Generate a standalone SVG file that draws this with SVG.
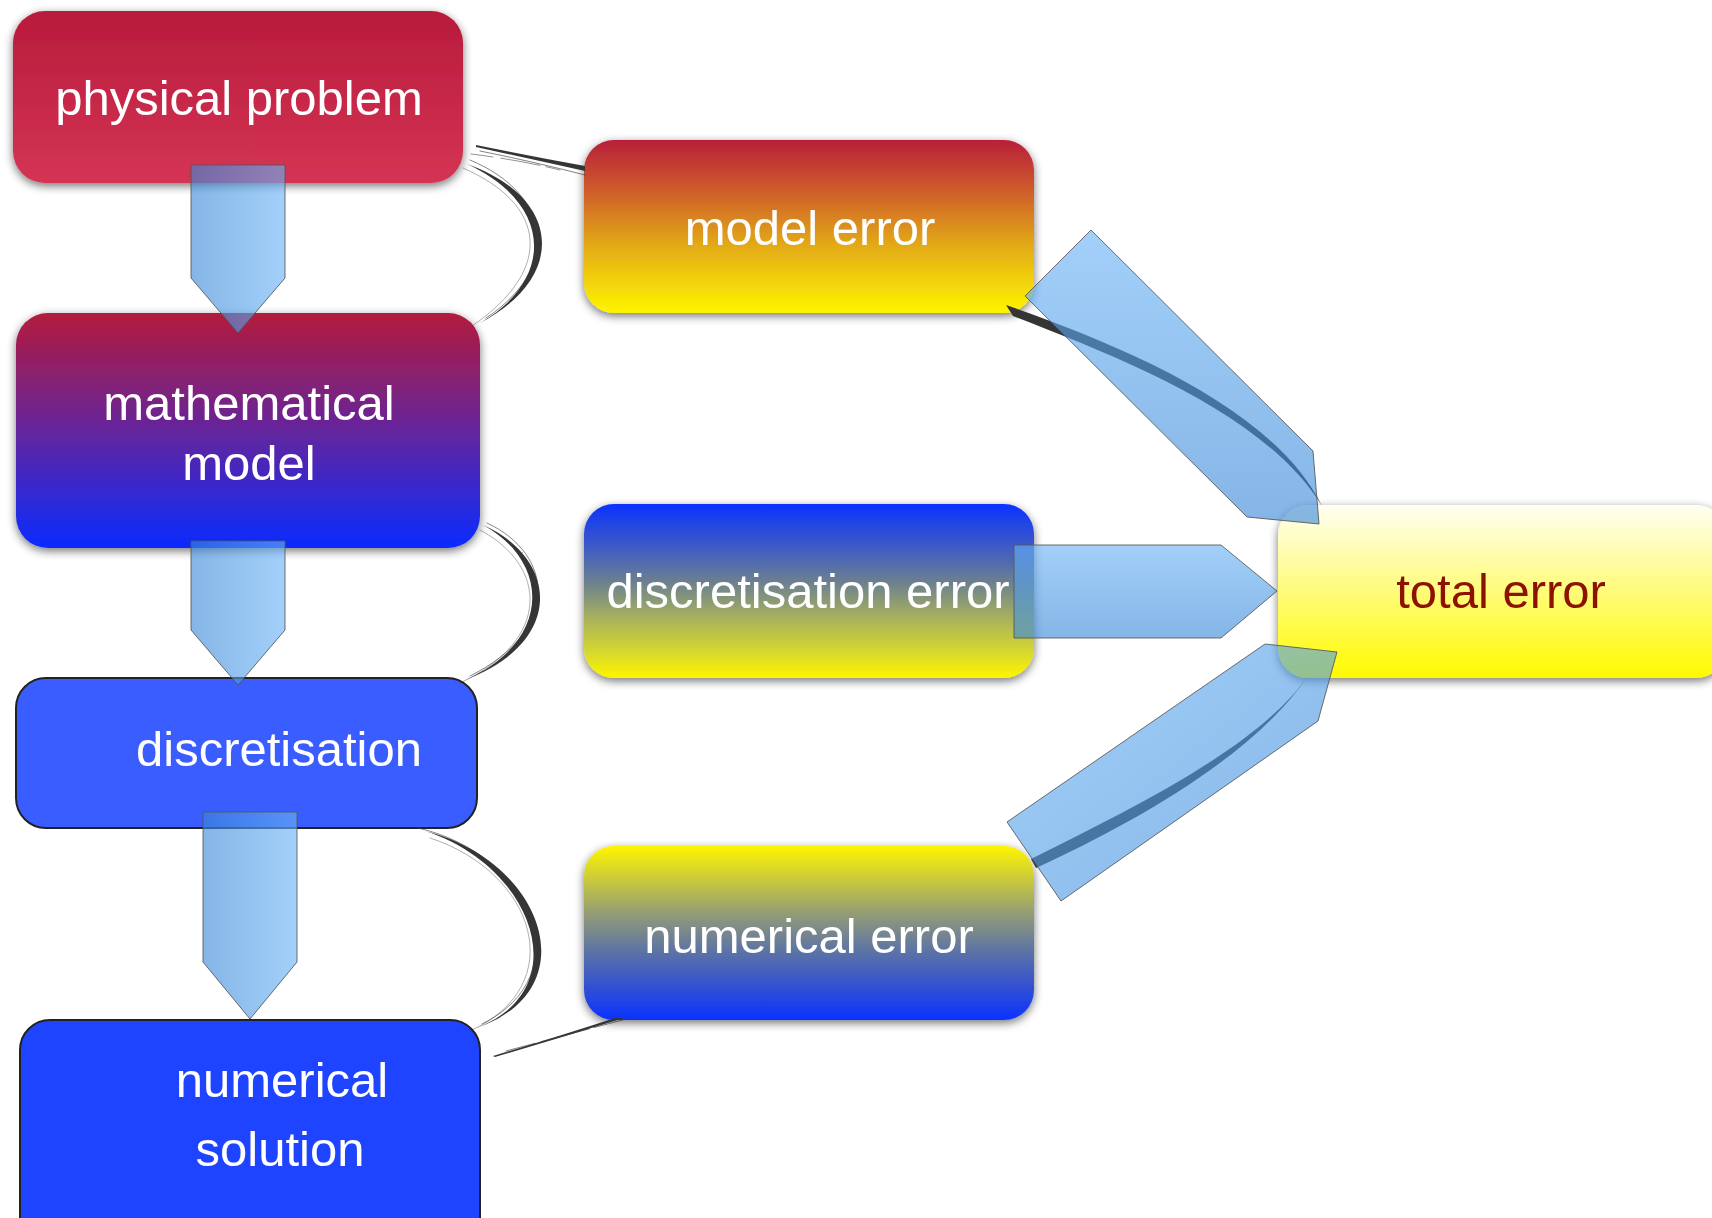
<svg xmlns="http://www.w3.org/2000/svg" width="1712" height="1218" viewBox="0 0 1712 1218">
  <style>
    .label { font-family: "Liberation Sans", Arial, Helvetica, sans-serif; font-size: 49px; fill: #ffffff; text-anchor: middle; }
    .label.dark { fill: #8c1200; }
    .box { filter: url(#shadow); }
    .outlined { stroke: #222222; stroke-width: 2; }
    .brush { fill: #353535; filter: url(#rough); }
    .strand { fill: none; stroke: #3a3a3a; stroke-linecap: round; }
    .flow { fill-opacity: 0.62; stroke: #555555; stroke-opacity: 0.85; stroke-width: 1; }
  </style>
  <defs>
    <filter id="shadow" x="-10%" y="-20%" width="120%" height="140%">
      <feGaussianBlur in="SourceAlpha" stdDeviation="5"/>
      <feOffset dy="3" result="blur"/>
      <feComponentTransfer><feFuncA type="linear" slope="0.55"/></feComponentTransfer>
      <feMerge><feMergeNode/><feMergeNode in="SourceGraphic"/></feMerge>
    </filter>
    <filter id="rough" x="-10%" y="-10%" width="120%" height="120%">
      <feTurbulence type="fractalNoise" baseFrequency="0.8" numOctaves="1" seed="3"/>
      <feDisplacementMap in="SourceGraphic" scale="1.5" xChannelSelector="R" yChannelSelector="G"/>
    </filter>
    <linearGradient id="gPhysical" x1="0" y1="0" x2="0" y2="1">
      <stop offset="0" stop-color="#b81b3b"/>
      <stop offset="1" stop-color="#d43454"/>
    </linearGradient>
    <linearGradient id="gMath" x1="0" y1="0" x2="0" y2="1">
      <stop offset="0" stop-color="#b31b3d"/>
      <stop offset="0.5" stop-color="#64259c"/>
      <stop offset="1" stop-color="#0a2cff"/>
    </linearGradient>
    <linearGradient id="gModelErr" x1="0" y1="0" x2="0" y2="1">
      <stop offset="0" stop-color="#b81e3a"/>
      <stop offset="0.3" stop-color="#cf5e2a"/>
      <stop offset="0.6" stop-color="#e2a817"/>
      <stop offset="1" stop-color="#fff500"/>
    </linearGradient>
    <linearGradient id="gDiscErr" x1="0" y1="0" x2="0" y2="1">
      <stop offset="0" stop-color="#0a32ff"/>
      <stop offset="0.3" stop-color="#4a64b8"/>
      <stop offset="0.45" stop-color="#6c8090"/>
      <stop offset="0.65" stop-color="#a6b05e"/>
      <stop offset="0.85" stop-color="#d6d82e"/>
      <stop offset="1" stop-color="#fff500"/>
    </linearGradient>
    <linearGradient id="gNumErr" x1="0" y1="0" x2="0" y2="1">
      <stop offset="0" stop-color="#fff500"/>
      <stop offset="0.2" stop-color="#c8c83e"/>
      <stop offset="0.4" stop-color="#909a78"/>
      <stop offset="0.6" stop-color="#5e74a4"/>
      <stop offset="0.8" stop-color="#3552d0"/>
      <stop offset="1" stop-color="#0a32ff"/>
    </linearGradient>
    <linearGradient id="gTotal" x1="0" y1="0" x2="0" y2="1">
      <stop offset="0" stop-color="#fffff2"/>
      <stop offset="0.4" stop-color="#fffc92"/>
      <stop offset="1" stop-color="#fffa00"/>
    </linearGradient>
    <linearGradient id="gFlowH" x1="0" y1="0" x2="1" y2="0">
      <stop offset="0" stop-color="#3a88d8"/>
      <stop offset="1" stop-color="#6ab3f6"/>
    </linearGradient>
    <linearGradient id="gFlowV" x1="0" y1="0" x2="0" y2="1">
      <stop offset="0" stop-color="#6ab3f6"/>
      <stop offset="1" stop-color="#3a88d8"/>
    </linearGradient>
    <linearGradient id="gFlowD" x1="0" y1="0" x2="1" y2="1">
      <stop offset="0" stop-color="#6ab3f6"/>
      <stop offset="1" stop-color="#3a88d8"/>
    </linearGradient>
  </defs>

  <rect width="1712" height="1218" fill="#ffffff"/>

  <!-- left column: modelling chain -->
  <g id="node-physical-problem">
    <rect class="box" x="13" y="11" width="450" height="172" rx="32" fill="url(#gPhysical)"/>
    <text class="label" x="239" y="115">physical problem</text>
  </g>
  <g id="node-mathematical-model">
    <rect class="box" x="16" y="313" width="464" height="235" rx="32" fill="url(#gMath)"/>
    <text class="label" x="249" y="420">mathematical</text>
    <text class="label" x="249" y="480">model</text>
  </g>
  <g id="node-discretisation">
    <rect class="outlined" x="16" y="678" width="461" height="150" rx="30" fill="#3a5dff"/>
    <text class="label" x="279" y="766">discretisation</text>
  </g>
  <g id="node-numerical-solution">
    <rect class="outlined" x="20" y="1020" width="460" height="230" rx="30" fill="#1f44ff"/>
    <text class="label" x="282" y="1097">numerical</text>
    <text class="label" x="280" y="1166">solution</text>
  </g>

  <!-- middle column: error sources -->
  <g id="node-model-error">
    <rect class="box" x="584" y="140" width="450" height="173" rx="30" fill="url(#gModelErr)"/>
    <text class="label" x="810" y="245">model error</text>
  </g>
  <g id="node-discretisation-error">
    <rect class="box" x="584" y="504" width="450" height="174" rx="30" fill="url(#gDiscErr)"/>
    <text class="label" x="808" y="608">discretisation error</text>
  </g>
  <g id="node-numerical-error">
    <rect class="box" x="584" y="846" width="450" height="174" rx="30" fill="url(#gNumErr)"/>
    <text class="label" x="809" y="953">numerical error</text>
  </g>

  <!-- right: result -->
  <g id="node-total-error">
    <rect class="box" x="1278" y="505" width="448" height="173" rx="30" fill="url(#gTotal)"/>
    <text class="label dark" x="1501" y="608">total error</text>
  </g>

  <g id="connectors">
    <!-- brush braces between consecutive stages -->
    <path class="brush" d="M467,164 C563,198 567,279 478,324 C555,281 554,204 467,164 Z"/>
    <path class="strand" stroke-width="1" opacity="0.6" d="M470,160 C552,194 562,268 486,318"/>
    <path class="strand" stroke-width="0.8" opacity="0.5" d="M463,168 C548,205 554,270 472,326"/>
    <path class="brush" d="M483,525 C558,558 566,642 465,680 C552,642 551,562 483,525 Z"/>
    <path class="strand" stroke-width="1" opacity="0.6" d="M487,523 C554,554 562,630 470,676"/>
    <path class="strand" stroke-width="0.8" opacity="0.5" d="M480,530 C548,566 552,640 460,683"/>
    <path class="brush" d="M425,831 C543,860 590,990 476,1028 C578,990 534,866 425,831 Z"/>
    <path class="strand" stroke-width="1" opacity="0.6" d="M418,828 C532,854 582,975 482,1024"/>
    <path class="strand" stroke-width="0.8" opacity="0.5" d="M430,838 C535,872 572,985 470,1031"/>

    <!-- fine strokes to the error boxes -->
    <path class="brush" d="M476,145 Q530,156 585,166 L585,171 Q530,159 476,147 Z"/>
    <path class="strand" stroke-width="0.8" opacity="0.8" d="M480,151 Q535,162 585,175"/>
    <path class="strand" stroke-width="0.8" opacity="0.7" stroke-dasharray="22 8 40 6" d="M471,154 Q520,160 560,170"/>
    <path class="brush" d="M493,1056 Q560,1036 615,1018 L624,1018 Q560,1038 495,1057 Z"/>
    <path class="strand" stroke-width="0.8" opacity="0.8" stroke-dasharray="30 6 50 5" d="M506,1051 Q570,1034 630,1018"/>

    <!-- brush strokes into total error -->
    <path class="brush" d="M1006,305 C1120,345 1273,407 1322,506 C1265,413 1118,357 1013,316 Z"/>
    <path class="brush" d="M1031,859 C1129,810 1262,746 1310,673 C1257,754 1134,823 1036,868 Z"/>

    <!-- block arrows -->
    <polygon class="flow" fill="url(#gFlowH)" points="191,165 285,165 285,278 238,333 191,278"/>
    <polygon class="flow" fill="url(#gFlowH)" points="191,541 285,541 285,630 238,685 191,630"/>
    <polygon class="flow" fill="url(#gFlowH)" points="203,812 297,812 297,962 250,1019 203,962"/>
    <polygon class="flow" fill="url(#gFlowV)" points="1091,230 1313,451 1319,524 1247,517 1025,296"/>
    <polygon class="flow" fill="url(#gFlowV)" points="1014,545 1221,545 1277,591 1221,638 1014,638"/>
    <polygon class="flow" fill="url(#gFlowD)" points="1007,822 1265,644 1337,652 1318,721 1061,901"/>
  </g>
</svg>
